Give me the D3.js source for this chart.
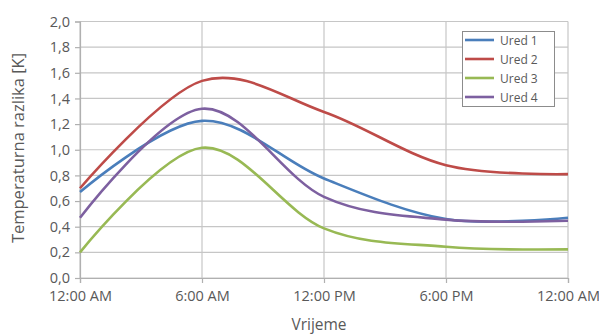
<!DOCTYPE html>
<html>
<head>
<meta charset="utf-8">
<script src="https://d3js.org/d3.v7.min.js"></script>
<style>
  body { margin: 0; background: #fff; }
  text { font-family: "Open Sans", sans-serif; fill: #595959; }
</style>
</head>
<body>
<script>
// hours of the day (0 = 12:00 AM)
var hours = [0, 6, 12, 18, 24];
var tickLabels = ["12:00 AM", "6:00 AM", "12:00 PM", "6:00 PM", "12:00 AM"];
var seriesNames = ["Ured 1", "Ured 2", "Ured 3", "Ured 4"];
var ured1 = [0.67, 1.225, 0.776, 0.46, 0.47];
var ured2 = [0.70, 1.537, 1.295, 0.88, 0.81];
var ured3 = [0.20, 1.015, 0.387, 0.244, 0.223];
var ured4 = [0.47, 1.32, 0.633, 0.455, 0.446];
var colors = ["#4a7ebb", "#be4b48", "#98b954", "#7d60a0"];

var W = 599, H = 335;
var plotL = 80, plotR = 568, plotT = 21.5, plotB = 278;

var svg = d3.select("body").append("svg")
    .attr("width", W).attr("height", H);

var x = d3.scaleLinear().domain([0, 24]).range([plotL, plotR]);
var y = d3.scaleLinear().domain([0, 2]).range([plotB, plotT]);

var yTicks = d3.range(0, 2.01, 0.2);

// horizontal grid
svg.append("g").selectAll("line")
  .data(yTicks).enter().append("line")
    .attr("x1", plotL).attr("x2", plotR)
    .attr("y1", function(d) { return y(d); })
    .attr("y2", function(d) { return y(d); })
    .attr("stroke", "#c6c6c6").attr("stroke-width", 1.2);

// vertical grid
svg.append("g").selectAll("line")
  .data(hours).enter().append("line")
    .attr("x1", function(d) { return x(d); })
    .attr("x2", function(d) { return x(d); })
    .attr("y1", plotT).attr("y2", plotB)
    .attr("stroke", "#c6c6c6").attr("stroke-width", 1.2);

// y axis
var yAxis = d3.axisLeft(y).tickValues(yTicks).tickSize(5).tickPadding(5)
    .tickFormat(function(d) { return d.toFixed(1).replace(".", ","); });
var gy = svg.append("g").attr("transform", "translate(" + plotL + ",0)").call(yAxis);

// x axis
var xAxis = d3.axisBottom(x).tickValues(hours).tickSize(5).tickPadding(8)
    .tickFormat(function(d, i) { return tickLabels[i]; });
var gx = svg.append("g").attr("transform", "translate(0," + plotB + ")").call(xAxis);

[gx, gy].forEach(function(g) {
  g.select(".domain").attr("stroke", "#b0b0b0").attr("stroke-width", 1.2);
  g.selectAll(".tick line").attr("stroke", "#b0b0b0").attr("stroke-width", 1.2);
  g.selectAll(".tick text").style("font-size", "14.5px").attr("fill", "#595959")
    .style("font-family", "'Open Sans', sans-serif");
});

// lines
var allSeries = [ured1, ured2, ured3, ured4];
var line = d3.line()
    .x(function(d, i) { return x(hours[i]); })
    .y(function(d) { return y(d); })
    .curve(d3.curveCatmullRom.alpha(0));

svg.append("g").selectAll("path")
  .data(allSeries).enter().append("path")
    .attr("d", line)
    .attr("fill", "none")
    .attr("stroke", function(d, i) { return colors[i]; })
    .attr("stroke-width", 2.6);

// axis titles
svg.append("text")
    .attr("transform", "translate(24,148) rotate(-90)")
    .attr("text-anchor", "middle")
    .style("font-size", "16.5px")
    .text("Temperaturna razlika [K]");

svg.append("text")
    .attr("x", 319).attr("y", 330)
    .attr("text-anchor", "middle")
    .style("font-size", "15.5px")
    .text("Vrijeme");

// legend
var lg = svg.append("g");
lg.append("rect")
    .attr("x", 462.5).attr("y", 31.5).attr("width", 92).attr("height", 75)
    .attr("fill", "#fff").attr("stroke", "#8c8c8c").attr("stroke-width", 1);
var items = lg.selectAll("g.item").data(seriesNames).enter().append("g")
    .attr("transform", function(d, i) { return "translate(0," + (40 + i * 19) + ")"; });
items.append("line")
    .attr("x1", 465).attr("x2", 494).attr("y1", 0).attr("y2", 0)
    .attr("stroke", function(d, i) { return colors[i]; })
    .attr("stroke-width", 2.6);
items.append("text")
    .attr("x", 500).attr("y", 4.5)
    .style("font-size", "12px")
    .text(function(d) { return d; });
</script>
</body>
</html>
